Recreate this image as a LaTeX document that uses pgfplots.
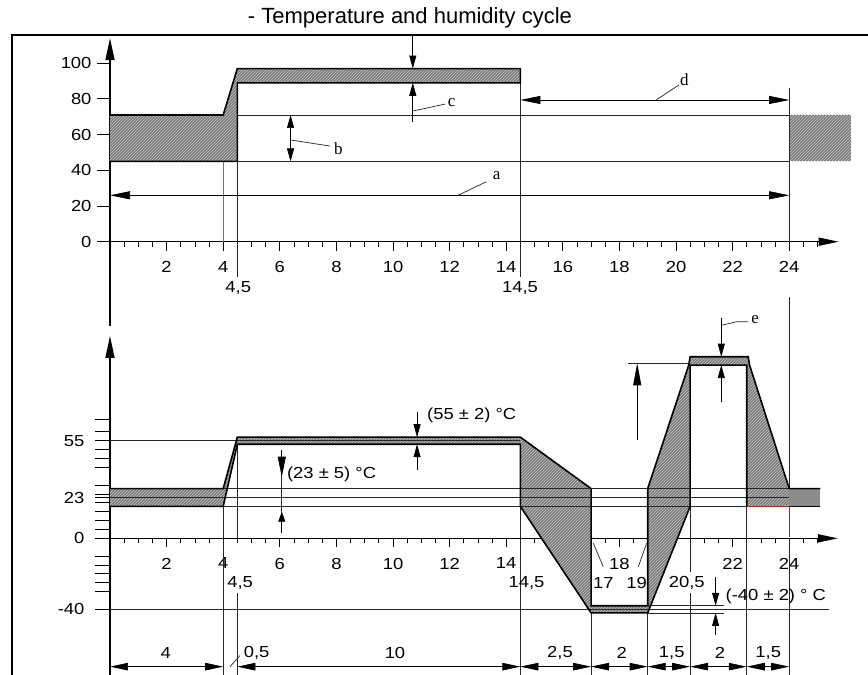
\documentclass[border=0pt]{standalone}
\usepackage{fontspec}
\setmainfont{Liberation Sans}[FakeStretch=1.15]
\newfontfamily\titlefont{Liberation Sans}
\newfontfamily\letterfont{Liberation Serif}
\usepackage{pgfplots}
\pgfplotsset{compat=1.18}
\usetikzlibrary{arrows.meta,patterns}
\colorlet{hatchbg}{black!52}
\colorlet{hatchln}{black!22}
\tikzset{
 dimA/.style={{Triangle[length=18pt,width=7.5pt]}-{Triangle[length=18pt,width=7.5pt]}, line width=0.7pt},
 sarr/.style={-{Triangle[length=13pt,width=7pt]}, line width=0.7pt},
 tl/.style={line width=0.7pt, black!85},
 lab/.style={font=\fontsize{16}{18}\selectfont, inner sep=0pt},
 let/.style={font=\letterfont\fontsize{17}{19}\selectfont, inner sep=0pt},
}
\pgfplotsset{
 mychart/.style={
  enlargelimits=false, clip=false, axis lines=middle,
  hide obscured x ticks=false, hide obscured y ticks=false,
  axis line style={line width=1.5pt},
  x axis line style={-{Triangle[length=20pt,width=8pt]}},
  y axis line style={-{Triangle[length=22pt,width=9pt]}},
  tick align=outside,
  major tick length=9pt, minor tick length=5pt,
  tick style={line width=0.8pt, black},
  ytick style={draw=none},
  minor xtick={0.5,1,...,25},
  ticklabel style={font=\fontsize{16}{18}\selectfont},
  /pgf/number format/assume math mode=true,
  xticklabel style={anchor=north, yshift=-7pt},
  yticklabel style={anchor=east},
 }
}
\begin{document}
\begin{tikzpicture}
\useasboundingbox (0,0) rectangle (868pt,675pt);
\fill[white] (0,0) rectangle (868pt,675pt);
% frame
\draw[line width=1.3pt] (12pt,0pt) -- (12pt,640pt) -- (868pt,640pt);
\node[font=\titlefont\fontsize{22}{24}\selectfont] at (410pt,657pt) {- Temperature and humidity cycle};

% ================= TOP: humidity =================
\begin{axis}[mychart,
  at={(101.51pt,349.4pt)}, anchor=south west,
  x=28.3pt, y=1.785pt,
  xmin=-0.3, xmax=25.75, ymin=-47, ymax=114,
  xtick={2,4,...,24},
  ytick={0,20,40,60,80,100},
  yticklabel style={xshift=-6pt},
]
% hatched regions
\addplot[draw=none, fill=hatchbg, postaction={pattern=north east lines, pattern color=hatchln}]
  coordinates {(0,45)(0,71)(4,71)(4.5,97)(14.5,97)(14.5,89)(4.5,89)(4.5,45)} -- cycle;
\addplot[draw=none, fill=hatchbg, postaction={pattern=north east lines, pattern color=hatchln}]
  coordinates {(24,45)(26.2,45)(26.2,71)(24,71)} -- cycle;
% thin lines
\draw[tl] (4.5,71) -- (24,71);
\draw[tl] (4.5,45) -- (24,45);
\draw[tl, black!55] (4,45) -- (4,0);
\draw[tl] (4.5,45) -- (4.5,-20);
\draw[tl] (14.5,89) -- (14.5,-20);
\draw[tl] (24,86) -- (24,0);
% outline
\addplot[draw=black, line width=1.6pt]
  coordinates {(0,71)(4,71)(4.5,97)(14.5,97)(14.5,89)(4.5,89)(4.5,45)(0,45)};
% y ticks
\pgfplotsinvokeforeach{0,20,40,60,80,100}{\draw[line width=0.8pt] (-0.46,#1) -- (0,#1);}
% a
\draw[{Triangle[length=20pt,width=8pt]}-{Triangle[length=20pt,width=8pt]}, line width=0.7pt] (0,26) -- (24,26);
\draw[tl] (12.3,26) -- (13.3,33.6);
\node[let] at (13.66,37) {a};
% d
\draw[{Triangle[length=20pt,width=8pt]}-{Triangle[length=20pt,width=8pt]}, line width=0.7pt] (14.5,79.4) -- (24,79.4);
\draw[tl] (19.3,79.4) -- (20.1,87.8);
\node[let] at (20.3,90.6) {d};
% c
\draw[sarr] (10.7,116) -- (10.7,97);
\draw[sarr] (10.7,67) -- (10.7,89);
\draw[tl] (10.7,73.2) -- (11.84,77.1);
\node[let] at (12.07,77.9) {c};
% b
\draw[{Triangle[length=13pt,width=7pt]}-{Triangle[length=13pt,width=7pt]}, line width=0.7pt] (6.38,45) -- (6.38,71);
\draw[tl] (6.38,57) -- (7.77,53.6);
\node[let] at (8.07,52.3) {b};
% second row labels
\node[lab] at (4.53,-26) {4,5};
\node[lab] at (14.49,-26) {14,5};
\end{axis}

% ================= BOTTOM: temperature =================
\begin{axis}[mychart,
  at={(95.0pt,0pt)}, anchor=south west,
  x=28.3pt, y=1.775pt,
  xmin=-0.53, xmax=25.72, ymin=-77, ymax=114,
  xtick={2,4,6,8,10,12,14,18,22,24},
  ytick={-40,0,23,55},
  yticklabel style={xshift=-13pt},
]
% hatched ribbon
\addplot[draw=none, fill=hatchbg, postaction={pattern=north east lines, pattern color=hatchln}]
  coordinates {(0,28)(4,28)(4.5,57)(14.5,57)(17,28)(17,-38)(19,-38)(19,28)(20.45,97.6)(20.5,102.3)(22.55,102.3)(22.6,97.6)(24,28)(24,18)(22.5,18)(22.5,97.6)(20.5,97.6)(20.5,18)(19,-42)(17,-42)(14.5,18)(14.5,53)(4.5,53)(4,18)(0,18)} -- cycle;
\addplot[draw=none, fill=black!45] coordinates {(24,18)(25.1,18)(25.1,28)(24,28)} -- cycle;
% thin lines
\draw[tl] (-0.53,55) -- (14.5,55);
\draw[tl] (0,28) -- (24,28);
\draw[tl] (0,23) -- (24,23);
\draw[tl] (0,18) -- (22.5,18);
\draw[tl] (-0.53,-40) -- (25.4,-40);
\draw[tl] (19,-38) -- (21.7,-38);
\draw[tl] (19,-42) -- (21.7,-42);
\draw[tl] (4,18) -- (4,-77);
\draw[tl] (4.5,53) -- (4.5,0);
\draw[tl] (4.5,-31) -- (4.5,-77);
\draw[tl] (14.5,18) -- (14.5,-77);
\draw[tl] (17,-42) -- (17,-77);
\draw[tl] (19,-42) -- (19,-77);
\draw[tl] (20.5,18) -- (20.5,-19);
\draw[tl] (20.5,-31) -- (20.5,-77);
\draw[tl] (22.5,18) -- (22.5,-77);
\draw[tl] (24,136) -- (24,28);
\draw[tl] (24,0) -- (24,-77);
\draw[line width=1.1pt, red] (22.5,18) -- (24,18);
\draw[line width=1.2pt, red] (axis cs:24,18) -- (axis cs:24,0.6);
\draw[tl] (18.3,98.6) -- (20.5,98.6);
% outlines
\addplot[draw=black, line width=1.6pt]
  coordinates {(0,28)(4,28)(4.5,57)(14.5,57)(17,28)(17,-38)(19,-38)(19,28)(20.45,97.6)(20.5,102.3)(22.55,102.3)(22.6,97.6)(24,28)(25.1,28)};
\addplot[draw=black, line width=1.6pt]
  coordinates {(0,18)(4,18)(4.5,53)(14.5,53)(14.5,18)(17,-42)(19,-42)(20.5,18)(20.5,97.6)(22.5,97.6)(22.5,18)};
\addplot[draw=black, line width=1.6pt] coordinates {(24,18)(25.1,18)};
% y ticks
\pgfplotsinvokeforeach{-40,-30,-25,-20,-15,-10,0,5,10,15,20,23,25,30,40,45,50,55,60,67}{\draw[line width=0.8pt] (-0.53,#1) -- (0,#1);}
% big up arrow
\draw[-{Triangle[length=22pt,width=8pt]}, line width=0.7pt] (18.63,55.4) -- (18.63,98.6);
% e
\draw[sarr] (21.6,124) -- (21.6,102.3);
\draw[sarr] (21.6,77) -- (21.6,97.6);
\draw[tl] (21.6,120) -- (22.14,122) -- (22.55,122);
\node[let] at (22.8,123) {e};
% 55 +- 2
\draw[sarr] (10.85,71) -- (10.85,57);
\draw[sarr] (10.85,38.5) -- (10.85,53);
\node[lab, anchor=west] at (11.2,69.5) {(55 ± 2) °C};
% 23 +- 5
\draw[tl] (6.07,50) -- (6.07,3);
\draw[-{Triangle[length=20pt,width=8pt]}, line width=0.7pt] (6.07,50) -- (6.07,34.7);
\draw[-{Triangle[length=10pt,width=7pt]}, line width=0.7pt] (6.07,3) -- (6.07,15);
\node[lab, anchor=west] at (6.25,36.2) {(23 ± 5) °C};
% -40 +- 2
\draw[sarr] (21.4,-21.6) -- (21.4,-38);
\draw[sarr] (21.4,-54.5) -- (21.4,-42);
\node[lab, anchor=west] at (21.75,-32.5) {(-40 ± 2) ° C};
% second row labels
\node[lab] at (4.6,-25.4) {4,5};
\node[lab] at (14.72,-25.4) {14,5};
\node[lab] at (17.43,-25.4) {17};
\node[lab] at (18.61,-25.4) {19};
\node[lab] at (20.38,-25.4) {20,5};
\draw[tl] (17.08,-2.8) -- (17.43,-16);
\draw[tl] (18.96,-2.8) -- (18.67,-16);
% dimension row
\draw[dimA] (0,-72.3) -- (4,-72.3);
\draw[dimA] (4.5,-72.3) -- (14.5,-72.3);
\draw[dimA] (14.5,-72.3) -- (17,-72.3);
\draw[dimA] (17,-72.3) -- (19,-72.3);
\draw[dimA] (19,-72.3) -- (20.5,-72.3);
\draw[dimA] (20.5,-72.3) -- (22.5,-72.3);
\draw[dimA] (22.5,-72.3) -- (24,-72.3);
\draw[tl] (4.24,-72.3) -- (4.6,-66);
\node[lab] at (1.97,-64.6) {4};
\node[lab] at (5.18,-64.6) {0,5};
\node[lab] at (10.07,-64.6) {10};
\node[lab] at (15.9,-64.6) {2,5};
\node[lab] at (18.08,-64.6) {2};
\node[lab] at (19.85,-64.6) {1,5};
\node[lab] at (21.55,-64.6) {2};
\node[lab] at (23.26,-64.6) {1,5};
\end{axis}
\end{tikzpicture}
\end{document}
